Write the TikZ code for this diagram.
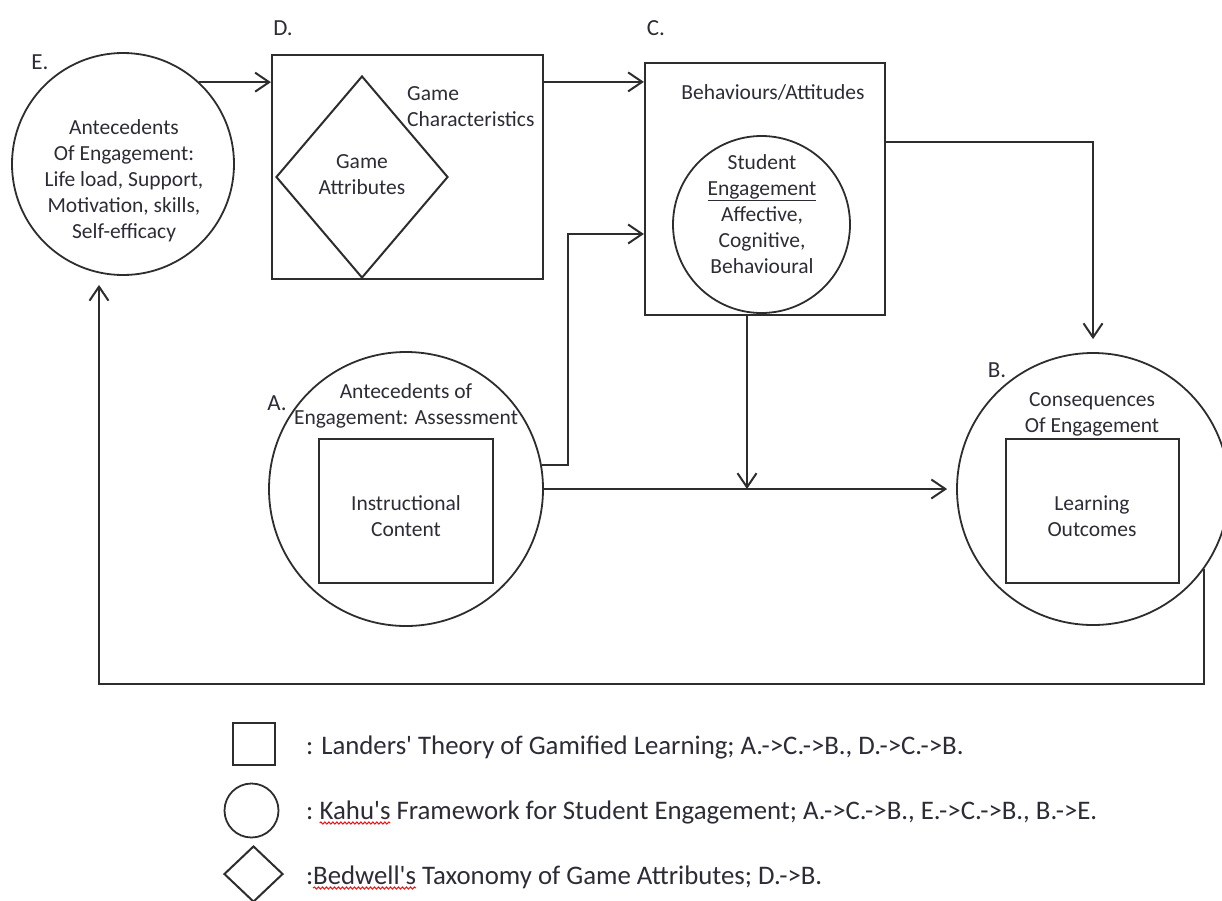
\documentclass[tikz,border=0pt]{standalone}
\usepackage{fontspec}
\setmainfont{Carlito}
\usetikzlibrary{arrows.meta,shapes.geometric,calc,decorations.pathmorphing}
\definecolor{ink}{RGB}{45,45,45}
\definecolor{txt}{RGB}{44,44,54}
\begin{document}
\begin{tikzpicture}[x=1pt,y=-1pt,
  box/.style={draw=ink, line width=2.2pt, rectangle, inner sep=0pt},
  ring/.style={draw=ink, line width=1.8pt, circle, inner sep=0pt},
  dia/.style={draw=ink, line width=2pt, diamond, inner sep=0pt},
  lbl/.style={font=\fontsize{21.5}{26}\selectfont, text=txt, align=center, inner sep=0pt},
  tag/.style={font=\fontsize{23}{28}\selectfont, text=txt, inner sep=0pt},
  leg/.style={font=\fontsize{26.8}{32}\selectfont, text=txt, inner sep=0pt, outer sep=0pt, anchor=base west},
  wave/.style={draw=red, line width=0.9pt, decorate, decoration={snake, amplitude=1.1pt, segment length=4pt}},
  arr/.style={draw=ink, line width=2pt, -{Straight Barb[length=14pt,width=19pt,line width=2pt]}}]
\useasboundingbox (0,0) rectangle (1222,900);
% E
\node[ring, minimum size=222pt] (E) at (123,164) {};
\node[lbl] (Et) at (124,181) {Antecedents\\Of Engagement:\\Life load, Support,\\Motivation, skills,\\Self-efficacy};
\node[tag] (El) at (40,62) {E.};
% D
\node[box, minimum width=271pt, minimum height=224pt] (D) at (407.5,167) {};
\node[dia, minimum width=172pt, minimum height=202pt] (GA) at (362,177) {};
\node[lbl] (GAt) at (362,175) {Game\\Attributes};
\node[lbl, align=left, anchor=west] (GC) at (407,107) {Game\\Characteristics};
\node[tag] (Dl) at (283,28) {D.};
% C
\node[box, minimum width=240pt, minimum height=252pt] (C) at (765,189) {};
\node[lbl] (BA) at (773,92) {Behaviours/Attitudes};
\node[ring, minimum size=177pt] (SE) at (761.5,224.5) {};
\node[lbl] (SEt) at (762,214) {Student\\\underline{Engagement}\\Affective,\\Cognitive,\\Behavioural};
\node[tag] (Cl) at (656,28) {C.};
% A
\node[ring, minimum size=274pt] (A) at (406,489) {};
\node[lbl] (At) at (406,406) {Antecedents of\\Engagement: Assessment};
\node[box, minimum width=174pt, minimum height=144pt] (IC) at (406,511) {};
\node[lbl] (ICt) at (406,516) {Instructional\\Content};
\node[tag] (Al) at (277,403) {A.};
% B
\node[ring, minimum size=272pt] (B) at (1093,489) {};
\node[lbl] (Bt) at (1092,414) {Consequences\\Of Engagement};
\node[box, minimum width=173pt, minimum height=144pt] (LO) at (1092.5,511) {};
\node[lbl] (LOt) at (1092,516) {Learning\\Outcomes};
\node[tag] (Bl) at (997,370) {B.};
% connectors
\draw[arr] (E.47) -- (E.47 -| D.west);
\draw[arr] ([yshift=-28pt]D.north east) -- ([yshift=-28pt]D.north east -| C.west);
\draw[arr] (A.10) -- ++(26,0) |- ([yshift=-45pt]C.west);
\draw[arr] (A.east) -- ([xshift=-9pt]B.west);
\draw[arr] ([xshift=-18pt]C.south) -- ([xshift=-18pt]C.south |- A.east);
\draw[arr] ([yshift=-80pt]C.north east) -| ([yshift=13pt]B.north);
\coordinate (fb) at (99,684);
\draw[arr] (B.-36) |- (fb) -- ([xshift=-24pt,yshift=-9pt]E.south);
% legend
\node[box, minimum size=42pt] (L1) at (254,744) {};
\node[ring, minimum size=54pt] (L2) at (251.5,810.5) {};
\node[dia, minimum width=59pt, minimum height=56pt] (L3) at (253.5,874) {};
\node[leg] (L1t) at (306,754) {: Landers\textquotesingle{} Theory of Gamified Learning; A.->C.->B., D.->C.->B.};
\node[leg] (L2a) at (306,819) {:\kern0.24em};
\node[leg] (L2b) at (L2a.base east) {Kahu\textquotesingle{}s};
\node[leg] (L2c) at (L2b.base east) {\ Framework for Student Engagement; A.->C.->B., E.->C.->B., B.->E.};
\node[leg] (L3a) at (306,884) {:};
\node[leg] (L3b) at (L3a.base east) {Bedwell\textquotesingle{}s};
\node[leg] (L3c) at (L3b.base east) {\ Taxonomy of Game Attributes; D.->B.};
\draw[wave] ([yshift=-4pt]L2b.base west) -- ([yshift=-4pt]L2b.base east);
\draw[wave] ([yshift=-4pt]L3b.base west) -- ([yshift=-4pt]L3b.base east);
\end{tikzpicture}
\end{document}
